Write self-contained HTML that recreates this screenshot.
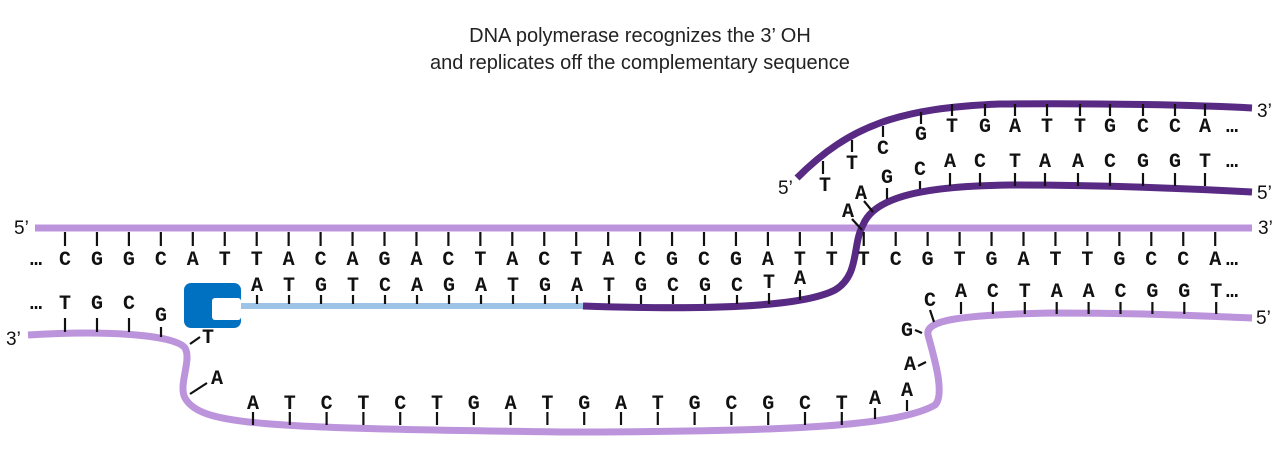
<!DOCTYPE html>
<html><head><meta charset="utf-8"><style>
html,body{margin:0;padding:0;background:#fff;}
svg{display:block}
.t{font-family:"Liberation Sans",sans-serif;font-size:20px;fill:#222}
.b{font-family:"Liberation Mono",monospace;font-weight:bold;font-size:20px;fill:#111;text-anchor:middle}
.p{font-family:"Liberation Sans",sans-serif;font-size:19px;fill:#111}
.k{stroke:#111;stroke-width:2.2}
</style></head><body>
<svg width="1278" height="468" viewBox="0 0 1278 468">
<text class="t" x="640" y="42" text-anchor="middle">DNA polymerase recognizes the 3’ OH</text>
<text class="t" x="640" y="69" text-anchor="middle">and replicates off the complementary sequence</text>

<line x1="35" y1="228" x2="1252" y2="228" stroke="#bc94dc" stroke-width="7"/>
<text class="p" x="14" y="234">5’</text>
<text class="p" x="1258" y="234">3’</text>

<path d="M28,335 C110,330 175,335 185,348 C192,360 178,385 185,398 C200,425 260,428 560,432 C800,432 900,425 935,405 C945,395 935,360 928,335 C925,320 960,315 1050,313 C1150,313 1200,316 1252,318" fill="none" stroke="#bc94dc" stroke-width="7"/>
<text class="p" x="6" y="345">3’</text>
<text class="p" x="1256" y="324">5’</text>

<line x1="240" y1="306" x2="583" y2="306" stroke="#9dc3e6" stroke-width="6"/>
<path d="M583,306 C700,310 800,308 835,290 C860,275 852,245 863,225 C875,195 930,186 1010,185 C1100,185 1180,188 1252,192" fill="none" stroke="#582a83" stroke-width="7"/>
<text class="p" x="1257" y="199">5’</text>
<path d="M797,178 C850,125 900,108 1000,104 C1100,103 1200,105 1252,108" fill="none" stroke="#582a83" stroke-width="7"/>
<text class="p" x="778" y="194">5’</text>
<text class="p" x="1257" y="117">3’</text>

<rect x="184" y="283" width="57" height="45" rx="7" fill="#0070c0"/>
<rect x="212" y="298" width="29" height="22" rx="3" fill="#fff"/>
</svg>
<script>
var NS="http://www.w3.org/2000/svg",svg=document.querySelector('svg');
function T(x,y,s){var t=document.createElementNS(NS,'text');t.setAttribute('class','b');t.setAttribute('x',x);t.setAttribute('y',y);t.textContent=s;svg.appendChild(t);}
function L(x1,y1,x2,y2){var l=document.createElementNS(NS,'line');l.setAttribute('class','k');l.setAttribute('x1',x1);l.setAttribute('y1',y1);l.setAttribute('x2',x2);l.setAttribute('y2',y2);svg.appendChild(l);}
var s1="CGGCATTACAGACTACTACGCGATTTCGTGATTGCCA";
for(var i=0;i<s1.length;i++){var x=65+i*31.95;T(x,265,s1[i]);L(x,232,x,246);}
T(36,265,"…");T(1232,265,"…");
var s2="ATGTCAGATGATGCGC";
for(i=0;i<s2.length;i++){var x=257+i*32;T(x,291,s2[i]);L(x,295,x,304);}
T(769,288,"T");L(769,293,769,304);T(800,284,"A");L(800,290,800,300);
T(36,309,"…");
[[65,"T"],[97,"G"],[129,"C"]].forEach(function(a){T(a[0],309,a[1]);L(a[0],318,a[0],332);});
T(161,321,"G");L(161,327,161,337);
T(208,343,"T");L(190,344,200,337);
T(217,384,"A");L(190,394,207,383);
var s3="ATCTCTGATGATGCGCT";
for(i=0;i<s3.length;i++){var x=253+i*36.8;T(x,409,s3[i]);L(x,412,x,425);}
T(875,404,"A");L(875,408,875,419);T(907,396,"A");L(907,400,907,411);
T(910,370,"A");L(918,366,926,362);T(907,336,"G");L(915,330,922,333);T(930,306,"C");L(930,310,934,322);
var s4="ACTAACGGT";
for(i=0;i<s4.length;i++){var x=961+i*31.9;T(x,297,s4[i]);L(x,302,x,314);}
T(1232,297,"…");
var s5="GTGATTGCCA";
var xs5=[921,952,985,1015,1047,1080,1110,1143,1175,1205];
for(i=0;i<10;i++){var y=i==0?140:132;T(xs5[i],y,s5[i]);L(xs5[i],i==0?124:116,xs5[i],i==0?112:104);}
T(1232,132,"…");
T(883,154,"C");L(883,137,883,126);T(852,169,"T");L(852,152,852,140);T(825,191,"T");L(823,174,823,161);
var s6="CACTAACGGT";
var xs6=[920,950,980,1015,1045,1078,1110,1143,1175,1205];
for(i=0;i<10;i++){var y=i==0?175:167;T(xs6[i],y,s6[i]);L(xs6[i],y+6,xs6[i],i==0?189:186);}
T(1232,167,"…");
T(887,183,"G");L(887,188,887,199);T(861,199,"A");L(864,201,873,212);T(848,217,"A");L(852,219,862,230);
</script>
</body></html>
